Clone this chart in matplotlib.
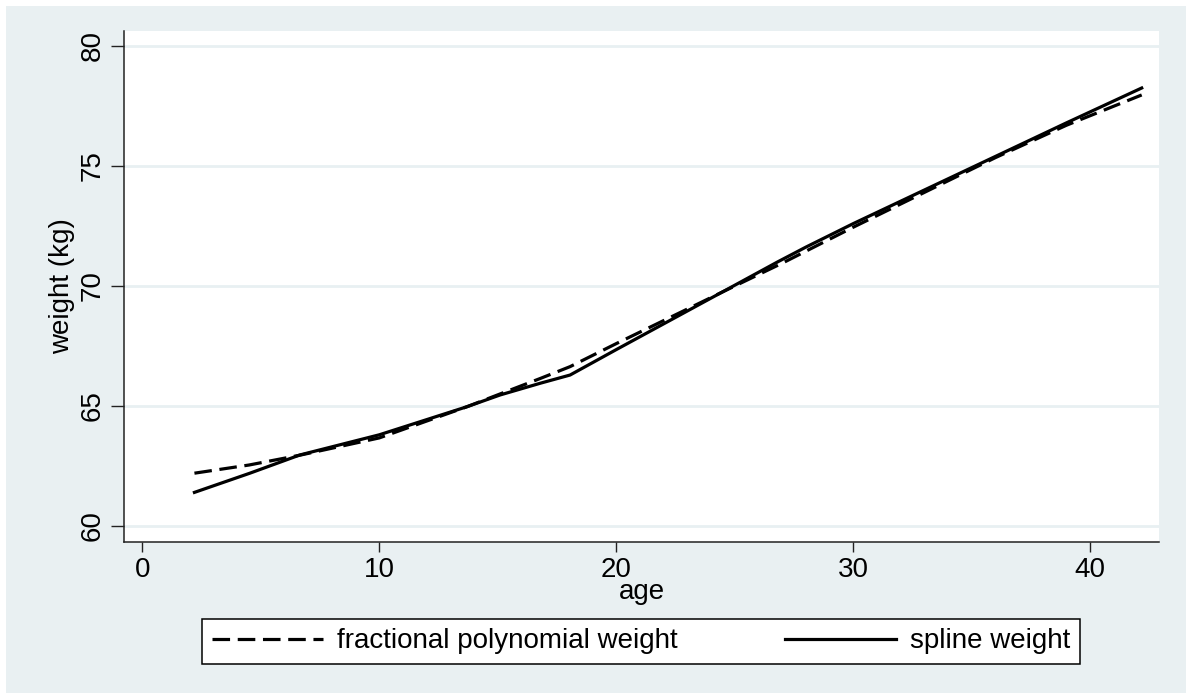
import numpy as np
import matplotlib
matplotlib.use("Agg")
import matplotlib.pyplot as plt
from matplotlib.patches import Rectangle

plt.rcParams['font.family'] = ['Liberation Sans', 'DejaVu Sans']

# fractional polynomial fit (dashed)
fp_age = [2.2, 4.5, 6.65, 10, 13.7, 16.8, 18.05, 20, 25, 27, 30, 33, 36, 39, 42.17]
fp_wt = [62.2, 62.54, 62.95, 63.67, 64.97, 66.15, 66.64, 67.6, 70.0, 70.95, 72.45, 73.9, 75.35, 76.7, 77.96]
# spline fit (solid)
sp_age = [2.2, 4.54, 6.65, 10, 13.7, 15.1, 16.8, 18.05, 20, 24.94, 26.8, 28, 30, 33, 36, 39, 42.17]
sp_wt = [61.4, 62.2, 62.96, 63.8, 64.97, 65.46, 65.95, 66.29, 67.35, 70.0, 71.0, 71.62, 72.6, 74.0, 75.4, 76.8, 78.25]
yticks = [60, 65, 70, 75, 80]
xticks = [0, 10, 20, 30, 40]

BG = "#e9f0f2"
W, H = 1186, 693
fig = plt.figure(figsize=(W/100, H/100), dpi=100, facecolor="white")
fig.patches.append(Rectangle((6/W, 0), 1 - 6/W, 1 - 6/H, transform=fig.transFigure,
                             facecolor=BG, edgecolor="none", zorder=-10))
ax = fig.add_axes([124/W, 1 - 542/H, (1159-124)/W, (542-31)/H])
ax.set_zorder(5)
ax.set_facecolor("white")

ax.plot(fp_age, fp_wt, color="black", lw=2.3, dashes=(5.5, 2.4), label="fractional polynomial weight",
        solid_joinstyle="round", dash_capstyle="butt")
ax.plot(sp_age, sp_wt, color="black", lw=2.3, label="spline weight", solid_joinstyle="round")

ax.set_xlim(-0.772, 42.9); ax.set_ylim(59.333, 80.625)
ax.set_xticks(xticks); ax.set_yticks(yticks)
ax.grid(axis="y", color="#e8f0f2", lw=2.0); ax.set_axisbelow(True)
for s in ["top", "right"]:
    ax.spines[s].set_visible(False)
for s in ["left", "bottom"]:
    ax.spines[s].set_linewidth(1.1); ax.spines[s].set_color("#222222")
ax.tick_params(axis="x", length=7.2, width=1.0, pad=3.6, labelsize=20, color="#222222")
ax.tick_params(axis="y", length=9.4, width=1.0, pad=3.6, labelsize=20, color="#222222")
for t in ax.get_yticklabels():
    t.set_rotation(90); t.set_va("center")

ax.set_xlabel("age", fontsize=20)
ax.xaxis.set_label_coords(0.5, -0.072)
ax.set_ylabel("weight (kg)", fontsize=20)
ax.yaxis.set_label_coords(-0.047, 0.5)

leg = ax.legend(ncol=2, loc="center", bbox_to_anchor=(202/W, 1 - 664/H, 878/W, 45/H),
                bbox_transform=fig.transFigure, mode="expand", borderaxespad=0, fontsize=20,
                handlelength=4.0, handletextpad=0.5, columnspacing=1.5,
                fancybox=False, framealpha=1, edgecolor="black", borderpad=0.35)
leg.get_frame().set_linewidth(1.1)

fig.savefig("out.png", dpi=100, facecolor="white")
